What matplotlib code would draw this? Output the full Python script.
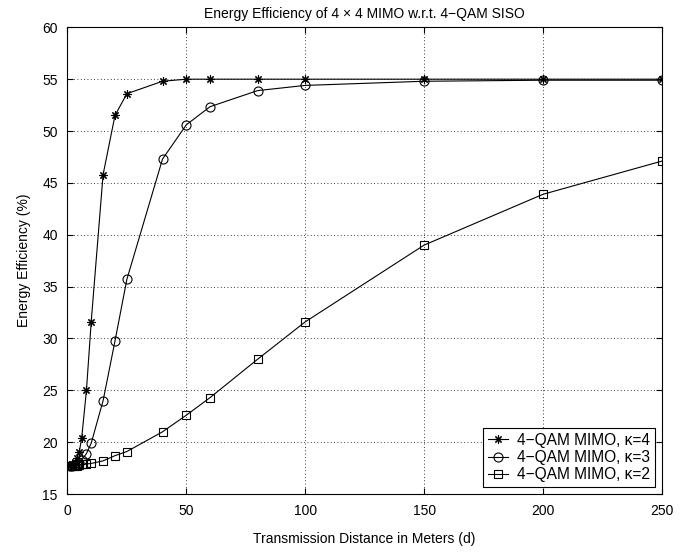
import numpy as np
import matplotlib.pyplot as plt

plt.rcParams['font.family'] = ['Liberation Sans', 'DejaVu Sans']

# distance in meters
d = [1, 2, 3, 4, 5, 6, 8, 10, 15, 20, 25, 40, 50, 60, 80, 100, 150, 200, 250]

# energy efficiency (%) for each kappa
ee_k4 = [17.75, 17.85, 18.1, 18.5, 19.1, 20.4, 25.0, 31.6, 45.8, 51.5, 53.6,
         54.8, 55.0, 55.0, 55.0, 55.0, 55.0, 55.0, 55.0]
ee_k3 = [17.7, 17.75, 17.8, 17.9, 18.0, 18.3, 18.9, 19.9, 24.0, 29.75, 35.7,
         47.3, 50.6, 52.35, 53.9, 54.4, 54.8, 54.9, 54.9]
ee_k2 = [17.7, 17.7, 17.75, 17.75, 17.8, 17.85, 17.9, 17.95, 18.2, 18.7, 19.1,
         21.0, 22.6, 24.3, 28.0, 31.6, 39.0, 43.9, 47.1]

fig = plt.figure(figsize=(6.88, 5.52), dpi=100)
ax = fig.add_axes([0.098, 0.105, 0.864, 0.8455])

ax.plot(d, ee_k4, color='k', lw=0.8, marker=(8, 2, 0), ms=6, mew=0.8,
        label='4\u2212QAM MIMO, \u03ba=4')
ax.plot(d, ee_k3, color='k', lw=0.8, marker='o', ms=6.5, mfc='none', mew=0.8,
        label='4\u2212QAM MIMO, \u03ba=3')
ax.plot(d, ee_k2, color='k', lw=0.8, marker='s', ms=5.8, mfc='none', mew=0.8,
        label='4\u2212QAM MIMO, \u03ba=2')

ax.set_xlim(0, 250)
ax.set_ylim(15, 60)
ax.set_xticks(np.arange(0, 251, 50))
ax.set_yticks(np.arange(15, 61, 5))
ax.tick_params(direction='in', labelsize=10, top=True, right=True, length=4, pad=7)
ax.grid(True, linestyle=(0, (1, 3)), color='k', lw=0.6)
for s in ax.spines.values():
    s.set_linewidth(0.8)

ax.set_xlabel('Transmission Distance in Meters (d)', fontsize=10, labelpad=10)
ax.set_ylabel('Energy Efficiency (%)', fontsize=10, labelpad=8)
ax.set_title('Energy Efficiency of 4 \u00d7 4 MIMO w.r.t. 4\u2212QAM SISO', fontsize=10, pad=7)

leg = ax.legend(loc='lower right', fontsize=11.2, fancybox=False, framealpha=1,
                edgecolor='k', borderaxespad=0.45, handlelength=1.3,
                handletextpad=0.6, borderpad=0.3, labelspacing=0.15)
leg.get_frame().set_linewidth(0.8)

fig.savefig('out.png', dpi=100)
